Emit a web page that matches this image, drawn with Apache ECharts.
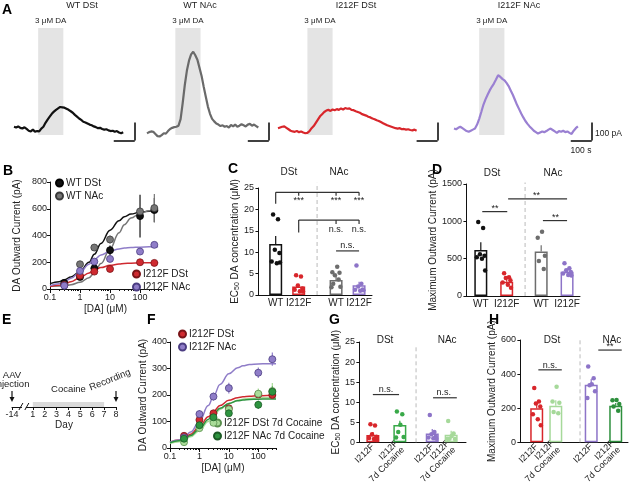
<!DOCTYPE html>
<html><head><meta charset="utf-8">
<script src="https://cdn.jsdelivr.net/npm/echarts@6/dist/echarts.min.js"></script>
<style>html,body{margin:0;padding:0;background:#fff}#c{width:640px;height:486px}</style>
</head><body><div id="c"></div>
<script>
// ================= DATA =================
// Panel A: example traces (pA), one value every 10 s
const traceStep = 10;
const traceWTDSt = [18,14,20,12,8,15,6,-4,-8,2,-10,-6,-8,8,18,40,58,74,90,102,112,120,128,126,124,118,112,104,96,84,74,64,56,46,42,36,30,26,20,16,10,12,6,2,4,-2,-6,-4,-10,-6,-14,-18,-12];
const traceWTNAc = [-19,-12,-8,-10,-22,-34,-36,-28,-18,-20,-6,6,12,16,18,24,60,150,250,330,385,420,435,415,390,345,300,240,185,130,90,62,48,36,30,22,26,18,22,14,28,20,30,18,24,32,26,20,30,34,24,30,22,14];
const traceI212FDSt = [10,14,18,20,12,4,-4,-8,-10,-6,-12,-8,-14,-18,-16,-6,10,22,40,58,76,88,100,108,112,106,114,110,116,112,120,114,122,118,120,112,110,104,100,96,88,84,80,74,70,64,60,54,50,44,38,32,26,22,18,14,10,8,10,4,6,2,4,0,-2,2,-4];
const traceI212FNAc = [8,4,12,18,10,2,-6,-10,-4,2,8,30,62,100,140,170,196,220,240,258,280,304,296,284,276,262,244,220,196,168,140,116,92,70,50,34,20,8,-4,-12,-20,-14,-8,-12,-6,2,8,0,-8,-16,-6,-10,-4,-12,-8,-16,-22,-4,10,20];
const traceTitles = ['WT DSt','WT NAc','I212F DSt','I212F NAc'];
const daOn  = [115,135,140,120];   // s
const daOff = [235,255,260,240];   // s

// Panels B and F: dose-response (pA)
const doseX = [0.3, 1, 3, 10, 100, 300];
const fitX  = [0.1,0.2,0.3,0.5,1,2,3,5,10,20,30,50,100,200,400];
const bWTDSt     = [45, 90, 155, 290, 545, 590];
const bWTDStErr  = [10, 15, 25, 35, 160, 90];
const bWTNAc     = [30, 185, 310, 370, 580, 605];
const bWTNAcErr  = [8, 20, 20, 30, 40, 105];
const bI212FDSt  = [30, 100, 130, 150, 200, 195];
const bI212FDStErr = [5, 10, 12, 12, 15, 18];
const bI212FNAc  = [25, 135, 205, 225, 280, 330];
const bI212FNAcErr = [5, 15, 15, 15, 15, 18];
const bFitWTDSt  = [40,55,70,90,130,200,260,340,440,510,540,560,575,582,585];
const bFitWTNAc  = [20,22,25,32,50,85,120,190,300,420,480,530,565,585,595];
const bFitI212FDSt = [18,28,38,55,85,120,140,160,177,187,191,193,195,196,196];
const bFitI212FNAc = [25,40,55,80,125,185,220,255,283,300,306,310,313,315,316];

const fI212FDSt  = [46, 106, 131, 150, 202, 200];
const fI212FDStErr = [5, 10, 12, 12, 12, 15];
const fI212FNAc  = [40, 128, 194, 226, 284, 335];
const fI212FNAcErr = [5, 15, 15, 20, 20, 25];
const fDStCoc    = [22, 75, 95, 146, 205, 215];
const fDStCocErr = [5, 8, 10, 10, 20, 30];
const fNAcCoc    = [35, 86, 116, 131, 163, 212];
const fNAcCocErr = [5, 8, 10, 10, 15, 20];
const fFitI212FDSt = [22,30,38,52,80,118,138,160,180,190,193,195,197,198,198];
const fFitI212FNAc = [22,30,40,60,100,160,195,240,280,303,310,315,317,318,318];
const fFitDStCoc   = [18,24,30,42,65,100,120,145,168,180,184,187,189,190,190];
const fFitNAcCoc   = [20,27,34,47,72,108,128,150,168,178,181,183,184,185,185];

// Panel C: EC50 (uM)
const cLabels = ['WT','I212F','WT','I212F'];
const cMeans = [11.9, 2.0, 3.5, 2.3];
const cSEM   = [1.9, 0.6, 0.9, 0.8];
const cDots  = [[18.8,17.7,10.6,9.8,7.8,7.4,7.6],[4.6,4.3,2.2,1.5,1.2,0.9,0.8],[6.6,5.3,5.2,4.6,3.6,2.6,1.9,1.8],[6.9,2.6,2.0,1.3,1.2,1.0,1.1]];
// Panel D: maximum outward current (pA)
const dLabels = ['WT','I212F','WT','I212F'];
const dMeans = [616, 190, 595, 325];
const dSEM   = [104, 35, 85, 30];
const dDots  = [[990,910,560,540,520,500,340],[305,250,240,210,180,150,110],[860,780,540,470,360],[440,370,345,320,300,280,275]];
// Panel G: EC50 (uM)
const gLabels = ['I212F','I212F\n7d Cocaine','I212F','I212F\n7d Cocaine'];
const gMeans = [1.8, 4.3, 2.2, 1.9];
const gSEM   = [0.8, 1.1, 1.1, 1.0];
const gDots  = [[4.5,4.2,2.0,1.4,1.1,0.8,0.6],[7.7,7.0,4.4,2.6,1.3,1.2],[6.8,2.6,2.0,1.4,1.2,1.0,0.9],[5.3,2.2,1.6,0.9,0.8,0.9]];
// Panel H: maximum outward current (pA)
const hLabels = gLabels;
const hMeans = [200, 215, 338, 215];
const hSEM   = [30, 32, 33, 16];
const hDots  = [[318,240,228,210,165,135,100],[326,240,232,178,170],[445,375,340,335,300,260],[248,246,225,210,185]];

// Panel E: timeline
const eTickValues = [-0.75,1,2,3,4,5,6,7,8];
const eTickLabels = ['-14','1','2','3','4','5','6','7','8'];

// ================= LAYOUT / STYLE =================
const FONT = 'Liberation Sans, Arial, Helvetica, sans-serif';
const TXT = '#222';
const C_BLACK='#111', C_GRAY='#6d6d6d', C_RED='#d8262b', C_PURP='#8d74c8', C_LG='#a6d99a', C_MG='#39a949', C_DG='#2d8f3d';

const option = {animation:false, backgroundColor:'#fff', textStyle:{fontFamily:FONT},
  grid:[], xAxis:[], yAxis:[], series:[], legend:[], graphic:[]};
const addG = g => (option.grid.push(g), option.grid.length-1);
const addX = a => (option.xAxis.push(a), option.xAxis.length-1);
const addY = a => (option.yAxis.push(a), option.yAxis.length-1);

function yAx(gi, min, max, interval, name, gap){
  return {type:'value', gridIndex:gi, min, max, interval,
    axisLine:{show:true, lineStyle:{color:C_BLACK, width:1}},
    axisTick:{show:true, length:3, lineStyle:{color:C_BLACK}},
    axisLabel:{fontSize:9, color:TXT, margin:3, formatter:v=>String(v)}, splitLine:{show:false},
    name, nameLocation:'middle', nameGap:gap,
    nameTextStyle:{fontSize:10, color:TXT, rich:{s:{fontSize:7, verticalAlign:'bottom'}}}};
}

// ---------- Panel A ----------
const PX_S = 0.21, PX_PA = 0.18, BASE = 130, VMAX = 570, VMIN = -100;
const traceSets = [
  {vals:traceWTDSt, color:C_BLACK, left:14, scaleT:575, titleX:82},
  {vals:traceWTNAc, color:'#6a6a6a', left:147, scaleT:580, titleX:200},
  {vals:traceI212FDSt, color:C_RED, left:278, scaleT:760, titleX:356},
  {vals:traceI212FNAc, color:'#9a80d2', left:454, scaleT:656, titleX:519}
];
traceSets.forEach((tr, k) => {
  const T = tr.scaleT + 4;
  const gi = addG({left:tr.left, top:BASE - VMAX*PX_PA, width:T*PX_S, height:(VMAX-VMIN)*PX_PA});
  const xi = addX({type:'value', gridIndex:gi, min:0, max:T, show:false});
  const yi = addY({type:'value', gridIndex:gi, min:VMIN, max:VMAX, show:false});
  option.series.push({type:'line', xAxisIndex:xi, yAxisIndex:yi, silent:true, showSymbol:false, z:3,
    data: tr.vals.map((v,i)=>[i*traceStep, v]), lineStyle:{color:tr.color, width:2.2},
    markArea:{silent:true, itemStyle:{color:'#e4e4e4'},
      label:{show:true, position:'top', formatter:'3 μM DA', fontSize:8, color:TXT, distance:3},
      data:[[{xAxis:daOn[k], yAxis:-28},{xAxis:daOff[k], yAxis:567}]]},
    markLine:{silent:true, symbol:'none', label:{show:false}, lineStyle:{color:'#000', width:1.5, type:'solid'},
      data:[[{coord:[tr.scaleT-100,-59]},{coord:[tr.scaleT,-59]}],[{coord:[tr.scaleT,-59]},{coord:[tr.scaleT,41]}]]}
  });
  option.graphic.push({type:'text', x:tr.titleX, y:6,
    style:{text:traceTitles[k], fontSize:9, fontFamily:FONT, fill:TXT, align:'center', verticalAlign:'middle'}});
});

// ---------- Dose-response panels ----------
function errSeries(xi, yi, xs, ys, es, color, z){
  return {type:'custom', xAxisIndex:xi, yAxisIndex:yi, silent:true, z,
    data: xs.map((x,i)=>[x, ys[i]-es[i], ys[i]+es[i]]),
    renderItem:(p, api)=>{ const a = api.coord([api.value(0), api.value(1)]), b = api.coord([api.value(0), api.value(2)]);
      return {type:'line', shape:{x1:a[0],y1:a[1],x2:b[0],y2:b[1]}, style:{stroke:color, lineWidth:1.2}}; }};
}
function dosePanel(cfg){
  const gi = addG({left:cfg.left, top:cfg.top, width:cfg.width, height:cfg.height});
  const major = [0.1,1,10,100];
  const minor = [0.2,0.3,0.4,0.5,0.6,0.7,0.8,0.9,2,3,4,5,6,7,8,9,20,30,40,50,60,70,80,90,200,300,400,500].filter(v=>v<=cfg.xmax);
  const xi = addX({type:'log', logBase:10, gridIndex:gi, position:'bottom', min:0.1, max:cfg.xmax,
    axisLine:{show:true, lineStyle:{color:C_BLACK}},
    axisTick:{show:true, customValues:major, length:4, lineStyle:{color:C_BLACK}},
    axisLabel:{customValues:major, fontSize:9, color:TXT, margin:4, formatter:v=>String(+(+v).toPrecision(3))},
    splitLine:{show:false}, name:'[DA] (μM)', nameLocation:'middle', nameGap:15, nameTextStyle:{fontSize:10, color:TXT}});
  addX({type:'log', logBase:10, gridIndex:gi, position:'bottom', min:0.1, max:cfg.xmax,
    axisLine:{show:false}, axisTick:{show:true, customValues:minor, length:2, lineStyle:{color:C_BLACK}},
    axisLabel:{show:false}, splitLine:{show:false}});
  const yi = addY(yAx(gi, 0, cfg.ymax, cfg.yint, 'DA Outward Current (pA)', cfg.nameGap));
  cfg.groups.forEach(g=>{
    option.series.push({type:'line', xAxisIndex:xi, yAxisIndex:yi, silent:true, showSymbol:false, smooth:0.4, smoothMonotone:'x', z:2,
      data: fitX.map((x,i)=>[x, g.fit[i]]), lineStyle:{color:g.line||g.color, width:1.5}});
  });
  cfg.groups.forEach(g=>{
    option.series.push(errSeries(xi, yi, doseX, g.pts, g.err, g.line||g.color, 3));
    option.series.push({type:'scatter', name:g.name, xAxisIndex:xi, yAxisIndex:yi, silent:true, z:4, symbolSize:7,
      data: doseX.map((x,i)=>[x, g.pts[i]]), itemStyle:{color:g.color, borderColor:g.border, borderWidth:0.8, opacity:1}});
  });
  cfg.legends.forEach(l=>option.legend.push({left:l.left, top:l.top, orient:'vertical', padding:0, itemWidth:7, itemHeight:7, itemGap:3,
    icon:'circle', selectedMode:false, textStyle:{fontSize:10, color:TXT, lineHeight:8, padding:[0,0,0,-2]}, data:l.names}));
}
dosePanel({left:50, top:182, width:111, height:107, xmax:500, ymax:800, yint:200, nameGap:28,
  groups:[
    {name:'WT DSt', color:C_BLACK, border:'#000', pts:bWTDSt, err:bWTDStErr, fit:bFitWTDSt},
    {name:'WT NAc', color:'#767676', border:'#3a3a3a', pts:bWTNAc, err:bWTNAcErr, fit:bFitWTNAc},
    {name:'I212F DSt', color:'#cf2a30', border:'#7a1418', pts:bI212FDSt, err:bI212FDStErr, fit:bFitI212FDSt},
    {name:'I212F NAc', color:'#8f7dc8', border:'#4b3d82', pts:bI212FNAc, err:bI212FNAcErr, fit:bFitI212FNAc}],
  legends:[{left:55, top:178, names:['WT DSt','WT NAc']},{left:132, top:269, names:['I212F DSt','I212F NAc']}]});
dosePanel({left:170, top:342, width:106, height:106, xmax:400, ymax:400, yint:100, nameGap:20,
  groups:[
    {name:'I212F DSt', color:'#cf2a30', border:'#7a1418', pts:fI212FDSt, err:fI212FDStErr, fit:fFitI212FDSt},
    {name:'I212F NAc', color:'#8f7dc8', border:'#4b3d82', pts:fI212FNAc, err:fI212FNAcErr, fit:fFitI212FNAc},
    {name:'I212F DSt 7d Cocaine', color:'#a9dc98', border:'#5a8f4e', pts:fDStCoc, err:fDStCocErr, fit:fFitDStCoc},
    {name:'I212F NAc 7d Cocaine', color:'#2e9440', border:'#1b5a25', pts:fNAcCoc, err:fNAcCocErr, fit:fFitNAcCoc}],
  legends:[{left:178, top:329, names:['I212F DSt','I212F NAc']},{left:213, top:418, names:['I212F DSt 7d Cocaine','I212F NAc 7d Cocaine']}]});

// ---------- Bar panels ----------
const N = 40;
const jit = {5:[0.3,-1.2,1.3,-0.8,0.9], 6:[-1.1,0.9,0.2,-0.6,1.4,-1.4], 7:[-0.9,0.8,-0.3,1.3,-1.4,0.4,1.5], 8:[0.4,-1.3,1.2,-0.4,0.9,-1.0,1.5,-1.6]};
function annSeries(xi, yi, items){
  return {type:'custom', xAxisIndex:xi, yAxisIndex:yi, silent:true, z:6, clip:false,
    data: items.map(it=> it.seg ? [it.seg[0], it.seg[1]] : [it.at[0], it.at[1]]),
    renderItem:(p, api)=>{
      const it = items[p.dataIndex];
      if (it.seg){ const a = api.coord([it.seg[0],it.seg[1]]), b = api.coord([it.seg[2],it.seg[3]]);
        const st = {stroke:it.color||'#333', lineWidth:it.w||1.2}; if (it.dash) st.lineDash = it.dash;
        return {type:'line', shape:{x1:a[0],y1:a[1],x2:b[0],y2:b[1]}, style:st}; }
      const q = api.coord(it.at);
      return {type:'text', x:q[0], y:q[1], style:{text:it.text, fill:TXT, fontSize:it.size||9, fontFamily:FONT, align:'center', verticalAlign:'middle'}};
    }};
}
function barPanel(cfg){
  const gi = addG({left:cfg.left, top:cfg.top, width:cfg.width, height:cfg.height});
  const cats = new Array(N).fill(''); cfg.slots.forEach((s,i)=>cats[s]=cfg.labels[i]);
  const xc = addX({type:'category', gridIndex:gi, position:'bottom', data:cats,
    axisLine:{lineStyle:{color:C_BLACK, width:1}}, axisTick:{show:false},
    axisLabel:{interval:0, fontSize:cfg.rotate?9:10, color:TXT, rotate:cfg.rotate||0, margin:cfg.rotate?3:4, lineHeight:9}});
  const xv = addX({type:'value', gridIndex:gi, position:'bottom', min:-0.5, max:N-0.5, show:false});
  const yi = addY(yAx(gi, 0, cfg.ymax, cfg.yint, cfg.yname, cfg.nameGap));
  const barData = new Array(N).fill(null);
  cfg.slots.forEach((s,i)=> barData[s] = {value:cfg.means[i], itemStyle:{borderColor:cfg.colors[i]}});
  option.series.push({type:'bar', xAxisIndex:xc, yAxisIndex:yi, silent:true, barWidth:13, z:2, data:barData,
    itemStyle:{color:'#fff', borderWidth:1.5}});
  cfg.slots.forEach((s,i)=>{
    option.series.push(errSeries(xv, yi, [s], [cfg.means[i]+cfg.sem[i]/2], [cfg.sem[i]/2], cfg.colors[i], 3));
    const d = cfg.dots[i], jj = jit[d.length];
    option.series.push({type:'scatter', xAxisIndex:xv, yAxisIndex:yi, silent:true, z:4, symbolSize:4.5,
      data:d.map((v,j)=>[s + jj[j], v]), itemStyle:{color:cfg.dotColors[i], opacity:1}});
  });
  option.series.push(annSeries(xv, yi, cfg.ann));
}
barPanel({left:257, top:188, width:115, height:107, ymax:25, yint:5, nameGap:12, yname:'EC{s|50} DA concentration (μM)',
  labels:cLabels, means:cMeans, sem:cSEM, dots:cDots, slots:[6,14,27,35],
  colors:[C_BLACK,C_RED,C_GRAY,C_PURP], dotColors:[C_BLACK,C_RED,C_GRAY,C_PURP],
  ann:[
    {seg:[20.4,0,20.4,26.2], color:'#bbb', dash:[4,3], w:1},
    {at:[10.6,28.6], text:'DSt', size:10}, {at:[28,28.6], text:'NAc', size:10},
    {seg:[6,24,35,24]}, {seg:[6,24,6,21.3]}, {seg:[14,24,14,23.2]}, {seg:[27,24,27,23.2]}, {seg:[35,24,35,23.2]},
    {at:[14,22.1], text:'***', size:9}, {at:[27,22.1], text:'***', size:9}, {at:[35,22.1], text:'***', size:9},
    {seg:[14,17.5,35,17.5]}, {seg:[14,17.5,14,14.6]}, {seg:[27,17.5,27,16.6]}, {seg:[35,17.5,35,16.6]},
    {at:[27,15.3], text:'n.s.', size:9}, {at:[35,15.3], text:'n.s.', size:9},
    {seg:[27,10.3,35,10.3]}, {at:[31,11.6], text:'n.s.', size:9}]});
barPanel({left:465, top:184, width:115, height:112, ymax:1500, yint:500, nameGap:22, yname:'Maximum Outward Current (pA)',
  labels:dLabels, means:dMeans, sem:dSEM, dots:dDots, slots:[5,14,26,35],
  colors:[C_BLACK,C_RED,C_GRAY,C_PURP], dotColors:[C_BLACK,C_RED,C_GRAY,C_PURP],
  ann:[
    {seg:[20.4,0,20.4,1520], color:'#bbb', dash:[4,3], w:1},
    {at:[8.9,1640], text:'DSt', size:10}, {at:[30.1,1640], text:'NAc', size:10},
    {seg:[5.5,1130,14.2,1130]}, {at:[9.9,1175], text:'**', size:9},
    {seg:[14.5,1300,35,1300]}, {at:[24.4,1345], text:'**', size:9},
    {seg:[26.6,1010,35,1010]}, {at:[31,1055], text:'**', size:9}]});
barPanel({left:358, top:342, width:108, height:106, ymax:25, yint:5, nameGap:16, rotate:45, yname:'EC{s|50} DA concentration (μM)',
  labels:gLabels, means:gMeans, sem:gSEM, dots:gDots, slots:[5,15,27,34],
  colors:[C_RED,C_MG,C_PURP,C_LG], dotColors:[C_RED,C_MG,C_PURP,C_LG],
  ann:[
    {seg:[21,0,21,24.3], color:'#bbb', dash:[4,3], w:1},
    {at:[9.5,25.4], text:'DSt', size:10}, {at:[32.5,25.4], text:'NAc', size:10},
    {seg:[5,11.9,14.7,11.9]}, {at:[9.9,13.1], text:'n.s.', size:9},
    {seg:[27.3,11.1,36.1,11.1]}, {at:[31.3,12.3], text:'n.s.', size:9}]});
barPanel({left:519, top:340, width:109, height:109, ymax:600, yint:200, nameGap:20, rotate:45, yname:'Maximum Outward Current (pA)',
  labels:hLabels, means:hMeans, sem:hSEM, dots:hDots, slots:[6,13,26,35],
  colors:[C_RED,C_LG,C_PURP,C_DG], dotColors:[C_RED,C_LG,C_PURP,C_DG],
  ann:[
    {seg:[21.9,0,21.9,600], color:'#bbb', dash:[4,3], w:1},
    {at:[11.6,600], text:'DSt', size:10}, {at:[33.6,600], text:'NAc', size:10},
    {seg:[6.6,425,15.2,425]}, {at:[10.9,452], text:'n.s.', size:9},
    {seg:[28.6,541,37.2,541]}, {at:[32.9,563], text:'**', size:9}]});

// ---------- Panel E: timeline ----------
(function(){
  const gi = addG({left:12, top:380, width:104, height:27});
  const xi = addX({type:'value', gridIndex:gi, position:'bottom', min:-0.75, max:8,
    axisLine:{show:true, lineStyle:{color:C_BLACK}},
    axisTick:{show:true, customValues:eTickValues, length:3, lineStyle:{color:C_BLACK}},
    axisLabel:{customValues:eTickValues, fontSize:9, color:TXT, margin:3, formatter:v=>eTickLabels[eTickValues.indexOf(+v)]},
    splitLine:{show:false}, name:'Day', nameLocation:'middle', nameGap:13, nameTextStyle:{fontSize:10, color:TXT}});
  const yi = addY({type:'value', gridIndex:gi, min:0, max:1, show:false});
  const items = [
    {k:'band', a:1, b:7}, {k:'text', x:4, dy:-18, t:'Cocaine'},
    {k:'arrow', x:-0.75}, {k:'text', x:-0.75, dy:-32, t:'AAV'}, {k:'text', x:-0.75, dy:-23, t:'injection'},
    {k:'arrow', x:8}, {k:'text', x:8, dx:-6, dy:-27, t:'Recording', rot:0.38},
    {k:'gap', a:0.0, b:0.5}, {k:'brk', x:0.0}, {k:'brk', x:0.5}];
  option.series.push({type:'custom', xAxisIndex:xi, yAxisIndex:yi, silent:true, clip:false, z:5,
    data: items.map(it=>[it.x!==undefined?it.x:it.a, 0]),
    renderItem:(p, api)=>{
      const it = items[p.dataIndex];
      if (it.k==='band'){ const a=api.coord([it.a,0]), b=api.coord([it.b,0]);
        return {type:'rect', shape:{x:a[0], y:a[1]-5, width:b[0]-a[0], height:5}, style:{fill:'#dadada'}}; }
      if (it.k==='gap'){ const a=api.coord([it.a,0]), b=api.coord([it.b,0]);
        return {type:'rect', shape:{x:a[0]+1, y:a[1]-2, width:b[0]-a[0]-2, height:4}, style:{fill:'#fff'}}; }
      const q = api.coord([it.x,0]);
      if (it.k==='brk') return {type:'line', shape:{x1:q[0]-2, y1:q[1]+3, x2:q[0]+2, y2:q[1]-4}, style:{stroke:C_BLACK, lineWidth:1}};
      if (it.k==='arrow') return {type:'group', children:[
        {type:'line', shape:{x1:q[0], y1:q[1]-16, x2:q[0], y2:q[1]-9}, style:{stroke:C_BLACK, lineWidth:1.2}},
        {type:'polygon', shape:{points:[[q[0]-2.5,q[1]-10],[q[0]+2.5,q[1]-10],[q[0],q[1]-5]]}, style:{fill:C_BLACK}}]};
      return {type:'text', x:q[0]+(it.dx||0), y:q[1]+it.dy, rotation:it.rot||0,
        style:{text:it.t, fill:TXT, fontSize:9.5, fontFamily:FONT, align:'center', verticalAlign:'middle'}};
    }});
})();

// ---------- Panel letters and free labels ----------
[['A',2,3],['B',3,164],['C',228,162],['D',432,163],['E',2,313],['F',147,313],['G',329,313],['H',489,313]].forEach(l=>
  option.graphic.push({type:'text', x:l[1], y:l[2], style:{text:l[0], fontSize:14, fontWeight:'bold', fontFamily:FONT, fill:'#000'}}));
option.graphic.push({type:'text', x:595, y:134, style:{text:'100 pA', fontSize:8.5, fontFamily:FONT, fill:TXT, align:'left', verticalAlign:'middle'}});
option.graphic.push({type:'text', x:581, y:151, style:{text:'100 s', fontSize:8.5, fontFamily:FONT, fill:TXT, align:'center', verticalAlign:'middle'}});

const chart = echarts.init(document.getElementById('c'), null, {renderer:'canvas'});
chart.setOption(option);
</script></body></html>
